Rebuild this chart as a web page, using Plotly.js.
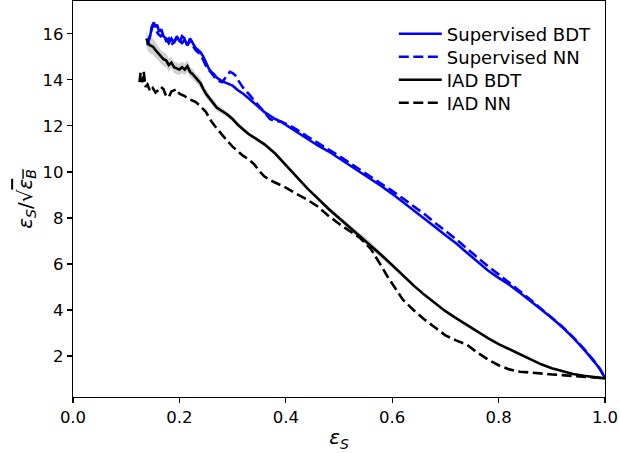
<!DOCTYPE html>
<html>
<head>
<meta charset="utf-8">
<script src="https://cdn.plot.ly/plotly-3.0.1.min.js"></script>
<style>
  html, body { margin: 0; padding: 0; background: #fff; }
  #chart { width: 620px; height: 453px; }
</style>
</head>
<body>
<div id="chart"></div>
<script>
// ---- Data ----
const supBdtX = [0.140,0.145,0.148,0.152,0.155,0.158,0.162,0.166,0.170,0.175,0.180,0.185,0.190,0.195,0.200,0.205,0.210,0.215,0.220,0.225,0.230,0.235,0.240,0.245,0.250,0.255,0.260,0.265,0.270,0.280,0.290,0.300,0.310,0.320,0.330,0.340,0.350,0.360,0.370,0.380,0.390,0.400,0.420,0.440,0.460,0.480,0.500,0.520,0.540,0.560,0.580,0.600,0.620,0.640,0.660,0.680,0.700,0.720,0.740,0.760,0.780,0.800,0.820,0.840,0.860,0.880,0.900,0.920,0.940,0.960,0.980,0.990,1.000];
const supBdtY = [15.6,15.9,16.3,16.5,16.3,16.4,16.1,16.2,15.9,15.8,15.6,15.8,15.6,15.9,15.7,15.6,15.75,15.5,15.8,15.6,15.4,15.3,15.2,15.0,14.75,14.5,14.35,14.25,14.1,13.95,13.85,13.75,13.55,13.4,13.2,13.0,12.8,12.6,12.45,12.3,12.2,12.05,11.75,11.45,11.15,10.9,10.6,10.3,10.0,9.7,9.38,9.05,8.7,8.35,8.0,7.62,7.25,6.9,6.5,6.1,5.72,5.4,5.1,4.75,4.4,4.02,3.65,3.25,2.8,2.3,1.75,1.45,1.05];

const supNnX = [0.140,0.145,0.150,0.155,0.160,0.165,0.170,0.175,0.180,0.185,0.190,0.195,0.200,0.205,0.210,0.215,0.220,0.225,0.230,0.240,0.250,0.260,0.270,0.280,0.290,0.295,0.300,0.305,0.310,0.320,0.330,0.340,0.350,0.360,0.370,0.380,0.390,0.400,0.420,0.440,0.460,0.480,0.500,0.520,0.540,0.560,0.580,0.600,0.620,0.640,0.660,0.680,0.700,0.720,0.740,0.760,0.780,0.800,0.820,0.840,0.860,0.880,0.900,0.920,0.940,0.960,0.980,0.990,1.000];
const supNnY = [15.5,16.0,16.4,16.2,16.0,15.9,16.0,15.7,15.8,15.5,15.7,15.8,15.6,15.9,15.8,15.5,15.7,15.5,15.3,15.1,14.6,14.3,14.0,13.9,14.2,14.35,14.3,14.2,14.0,13.65,13.4,13.1,12.85,12.6,12.3,12.2,12.2,12.1,11.85,11.55,11.25,10.98,10.7,10.4,10.1,9.8,9.5,9.18,8.85,8.52,8.18,7.8,7.45,7.08,6.68,6.28,5.9,5.55,5.2,4.82,4.45,4.05,3.68,3.27,2.82,2.32,1.77,1.46,1.05];

const iadBdtX = [0.138,0.141,0.145,0.150,0.155,0.160,0.165,0.170,0.175,0.180,0.185,0.190,0.195,0.200,0.205,0.210,0.215,0.220,0.225,0.230,0.235,0.240,0.245,0.250,0.260,0.270,0.280,0.290,0.300,0.310,0.320,0.330,0.340,0.350,0.360,0.380,0.400,0.420,0.440,0.460,0.480,0.500,0.520,0.540,0.560,0.580,0.600,0.620,0.640,0.660,0.680,0.700,0.720,0.740,0.760,0.780,0.800,0.820,0.840,0.860,0.880,0.900,0.920,0.940,0.960,0.980,1.000];
const iadBdtY = [15.8,15.6,15.5,15.45,15.3,15.15,15.0,14.9,14.85,14.65,14.75,14.55,14.5,14.45,14.55,14.45,14.6,14.35,14.25,14.1,14.0,13.85,13.6,13.4,13.1,12.8,12.65,12.5,12.3,12.05,11.85,11.65,11.5,11.35,11.2,10.8,10.3,9.8,9.3,8.85,8.4,8.0,7.6,7.2,6.8,6.38,5.95,5.5,5.07,4.67,4.3,3.95,3.65,3.35,3.05,2.78,2.52,2.3,2.06,1.85,1.64,1.47,1.33,1.22,1.14,1.08,1.03];
const iadBdtErr = [0.35,0.35,0.35,0.35,0.35,0.3,0.3,0.3,0.3,0.3,0.25,0.25,0.25,0.25,0.25,0.25,0.25,0.22,0.22,0.2,0.2,0.2,0.18,0.18,0.15,0.15,0.12,0.12,0.1,0.1,0.1,0.08,0.08,0.08,0.08,0.07,0.07,0.07,0.07,0.08,0.1,0.1,0.12,0.15,0.15,0.12,0.1,0.08,0.06,0.05,0.05,0.04,0.04,0.03,0.03,0.03,0.03,0.02,0.02,0.02,0.02,0.02,0.02,0.01,0.01,0.01,0.01];

const iadNnX = [0.125,0.127,0.130,0.133,0.136,0.140,0.145,0.150,0.155,0.160,0.165,0.170,0.175,0.180,0.185,0.190,0.195,0.200,0.205,0.210,0.215,0.220,0.225,0.230,0.235,0.240,0.250,0.260,0.270,0.280,0.290,0.300,0.310,0.320,0.330,0.340,0.350,0.360,0.370,0.380,0.400,0.420,0.440,0.460,0.480,0.500,0.520,0.540,0.560,0.570,0.580,0.590,0.600,0.620,0.640,0.660,0.680,0.700,0.720,0.740,0.760,0.780,0.800,0.820,0.840,0.860,0.880,0.900,0.920,0.940,0.960,0.980,1.000];
const iadNnY = [13.9,14.3,13.9,14.35,13.7,13.8,13.5,13.65,13.45,13.55,13.7,13.6,13.3,13.25,13.5,13.55,13.6,13.4,13.35,13.3,13.2,13.15,13.1,13.05,12.95,12.85,12.6,12.2,11.9,11.6,11.35,11.1,10.9,10.7,10.55,10.35,10.05,9.8,9.65,9.55,9.32,9.05,8.8,8.5,8.1,7.75,7.45,7.12,6.65,6.3,5.9,5.5,5.15,4.45,4.0,3.6,3.25,2.9,2.68,2.5,2.15,1.85,1.6,1.42,1.32,1.27,1.23,1.2,1.17,1.14,1.11,1.07,1.03];

const seriesNames = ["Supervised BDT", "Supervised NN", "IAD BDT", "IAD NN"];
const xTickVals = [0.0, 0.2, 0.4, 0.6, 0.8, 1.0];
const xTickText = ["0.0", "0.2", "0.4", "0.6", "0.8", "1.0"];
const yTickVals = [2, 4, 6, 8, 10, 12, 14, 16];

// ---- Build traces ----
const bandUpper = iadBdtY.map((v, i) => v + iadBdtErr[i]);
const bandLower = iadBdtY.map((v, i) => v - iadBdtErr[i]);
const LW = 2.6;
const DASH = "10px,4.5px";

const traces = [
  { x: iadBdtX, y: bandLower, mode: "lines", line: { width: 0, color: "rgba(0,0,0,0)" }, showlegend: false, hoverinfo: "skip" },
  { x: iadBdtX, y: bandUpper, mode: "lines", line: { width: 0, color: "rgba(0,0,0,0)" }, fill: "tonexty", fillcolor: "rgba(190,190,190,0.7)", showlegend: false, hoverinfo: "skip" },
  { x: supBdtX, y: supBdtY, name: seriesNames[0], legend: "legend", mode: "lines", line: { color: "#0000ff", width: LW } },
  { x: supNnX, y: supNnY, name: seriesNames[1], legend: "legend2", mode: "lines", line: { color: "#0000ff", width: LW, dash: DASH } },
  { x: iadBdtX, y: iadBdtY, name: seriesNames[2], legend: "legend3", mode: "lines", line: { color: "#000000", width: LW } },
  { x: iadNnX, y: iadNnY, name: seriesNames[3], legend: "legend4", mode: "lines", line: { color: "#000000", width: LW, dash: DASH } }
];

const FONT = "DejaVu Sans, sans-serif";
function legendAt(yPaper) {
  return {
    x: 0.603, y: yPaper, xanchor: "left", yanchor: "middle",
    bgcolor: "rgba(255,255,255,0)", borderwidth: 0,
    itemwidth: 43,
    font: { family: FONT, size: 18, color: "#000" }
  };
}
const layout = {
  width: 620, height: 453,
  margin: { l: 73, r: 15, t: 1, b: 56, pad: 0 },
  paper_bgcolor: "#fff", plot_bgcolor: "#fff",
  font: { family: FONT, size: 16.5, color: "#000" },
  showlegend: true,
  legend: legendAt(0.9167),
  legend2: legendAt(0.8586),
  legend3: legendAt(0.8005),
  legend4: legendAt(0.7424),
  xaxis: {
    range: [0, 1], tickvals: xTickVals, ticktext: xTickText,
    showgrid: false, zeroline: false,
    showline: true, mirror: true, linecolor: "#000", linewidth: 1.1,
    ticks: "outside", ticklen: 5, tickwidth: 1.1, tickcolor: "#000",
    tickfont: { family: FONT, size: 16.5, color: "#000" },
    title: { text: "<i>ε</i><sub><i>S</i></sub>", font: { family: FONT, size: 20, color: "#000" }, standoff: 4 }
  },
  yaxis: {
    range: [0.22, 17.43], tickvals: yTickVals,
    showgrid: false, zeroline: false,
    showline: true, mirror: true, linecolor: "#000", linewidth: 1.1,
    ticks: "outside", ticklen: 5, tickwidth: 1.1, tickcolor: "#000",
    tickfont: { family: FONT, size: 16.5, color: "#000" },
    title: { text: "<i>ε</i><sub><i>S</i></sub>/√<span style=\"text-decoration:overline\"><i>ε</i><sub><i>B</i></sub></span>", font: { family: FONT, size: 20, color: "#000" }, standoff: 4 }
  }
};

Plotly.newPlot("chart", traces, layout, { staticPlot: true, displayModeBar: false });
</script>
</body>
</html>
